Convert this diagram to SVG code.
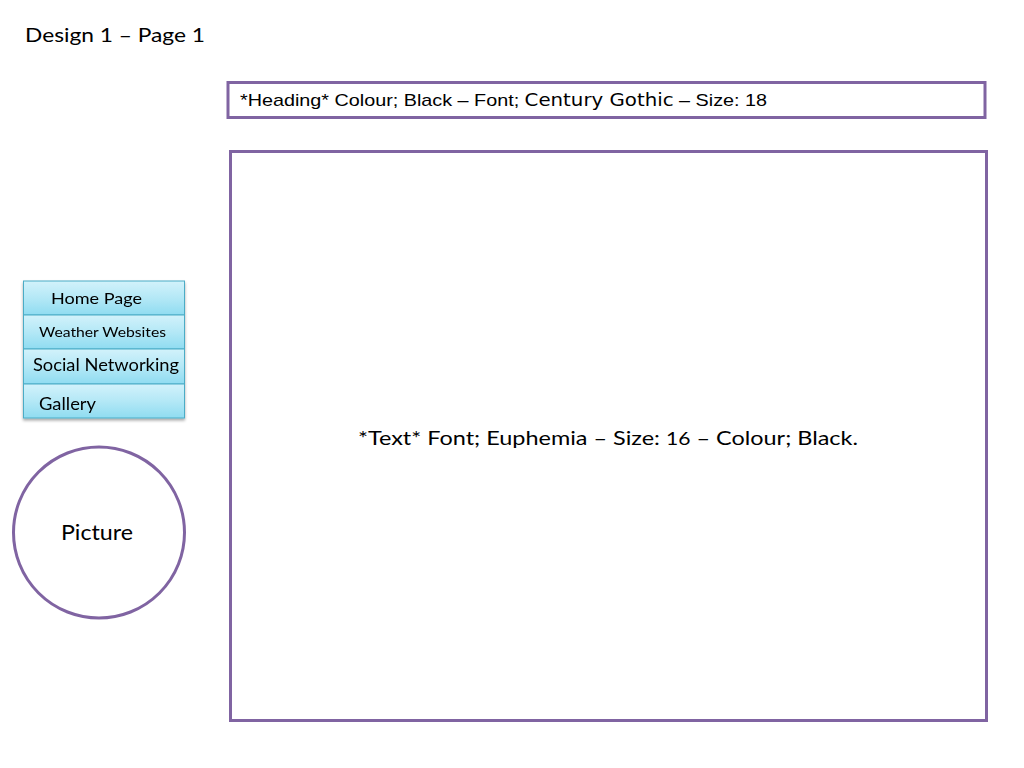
<svg xmlns="http://www.w3.org/2000/svg" width="1024" height="768" viewBox="0 0 1024 768">
<style>
.c{font-family:Lato,"Open Sans","Noto Sans",sans-serif;fill:#000}
.a{font-family:"Liberation Sans",Arial,sans-serif;fill:#000}
.box{fill:#fff;stroke:#8064A2;stroke-width:3}
.btn{fill:url(#g);stroke:#4BACC6;stroke-width:1}
</style>
<defs>
<linearGradient id="g" x1="0" y1="0" x2="0" y2="1">
<stop offset="0" stop-color="#D2F2FB"/>
<stop offset="0.5" stop-color="#B4E8F6"/>
<stop offset="1" stop-color="#8FDCF1"/>
</linearGradient>
<filter id="sh" x="-10%" y="-10%" width="120%" height="130%">
<feGaussianBlur in="SourceAlpha" stdDeviation="1.5"/>
<feOffset dy="2" result="b"/>
<feComponentTransfer><feFuncA type="linear" slope="0.35"/></feComponentTransfer>
<feMerge><feMergeNode/><feMergeNode in="SourceGraphic"/></feMerge>
</filter>
</defs>
<rect width="1024" height="768" fill="#fff"/>
<text id="title" class="c" x="25" y="42" font-size="20" textLength="180" lengthAdjust="spacingAndGlyphs">Design 1 – Page 1</text>
<g id="heading">
<rect class="box" x="228" y="82.5" width="757" height="35"/>
<text class="a" x="240" y="106" font-size="17" textLength="527" lengthAdjust="spacingAndGlyphs">*Heading* Colour; Black – Font; <tspan font-family="'DejaVu Sans',sans-serif">Century Gothic</tspan> – Size: 18</text>
</g>
<g id="content">
<rect class="box" x="230.5" y="151.5" width="756" height="569"/>
<text class="c" x="358" y="445" font-size="20" textLength="500" lengthAdjust="spacingAndGlyphs">*Text* Font; Euphemia – Size: <tspan font-size="18">16</tspan> – Colour; Black.</text>
</g>
<g id="menu" filter="url(#sh)">
<g id="btn-home"><rect class="btn" x="23.5" y="281" width="161" height="34"/>
<text class="c" x="51" y="304" font-size="16" textLength="91" lengthAdjust="spacingAndGlyphs">Home Page</text></g>
<g id="btn-weather"><rect class="btn" x="23.5" y="315" width="161" height="34"/>
<text class="c" x="39" y="337" font-size="14" textLength="127" lengthAdjust="spacingAndGlyphs">Weather Websites</text></g>
<g id="btn-social"><rect class="btn" x="23.5" y="349" width="161" height="35"/>
<text class="c" x="33" y="371" font-size="17" textLength="146" lengthAdjust="spacingAndGlyphs">Social Networking</text></g>
<g id="btn-gallery"><rect class="btn" x="23.5" y="384" width="161" height="34"/>
<text class="c" x="39" y="410" font-size="17" textLength="57" lengthAdjust="spacingAndGlyphs">Gallery</text></g>
</g>
<g id="picture">
<circle cx="99" cy="532.5" r="85.5" fill="#fff" stroke="#8064A2" stroke-width="3"/>
<text class="c" x="61" y="540" font-size="21" textLength="72" lengthAdjust="spacingAndGlyphs">Picture</text>
</g>
<g id="connectors"/>
</svg>
